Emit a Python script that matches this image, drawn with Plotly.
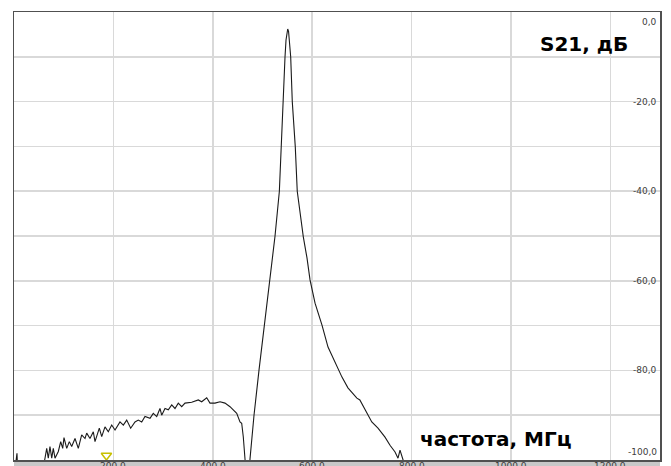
import plotly.graph_objects as go

# ---- data (frequency in MHz, S21 in dB) ----
freq_mhz = [
    0, 6, 8, 55, 62.4, 65.8, 69.0, 72.4, 75.9, 79.1, 82.5, 89.2, 94.0, 98.0, 100.6,
    106.1, 111.3, 116.1, 122.8, 129.4, 136.2, 142.9, 146.3, 152.9, 159.6, 163.0,
    171.7, 176.5, 183.1, 189.8, 196.6, 203.3, 213.3, 220.0, 226.8, 234.8, 243.5,
    250.1, 257.0, 263.6, 273.7, 280.3, 287.2, 293.8, 297.2, 303.9, 310.5, 317.4,
    324.0, 330.6, 337.5, 344.1, 357.6, 370.9, 377.7, 387.8, 394.4, 404.5, 414.6,
    424.6, 434.7, 441.3, 448.2, 454.8, 458.2, 461.4, 464.9, 468, 472, 474.9,
    483, 493, 503.7, 515.2, 525.3, 534, 537.3, 542, 545.4, 547.4, 549.5, 550.8,
    552.5, 554.4, 556.8, 560, 566, 570, 575.6, 582.2, 589.6, 595.7, 605.8, 619.8,
    631.9, 646, 660, 672, 690, 696, 710, 720, 732.5, 746.6, 756.7, 766.8,
    772.8, 776.8, 783, 790,
]
s21_db = [
    -104, -98.5, -104, -104, -99.6, -97.4, -99.6, -97.0, -99.6, -97.4, -99.6, -98.1, -95.9, -97.4, -95.0,
    -97.4, -95.9, -97.0, -95.2, -97.4, -94.4, -95.2, -94.0, -95.2, -93.7, -95.9,
    -92.9, -94.8, -92.6, -93.7, -92.2, -93.3, -91.5, -92.2, -91.1, -92.9, -91.5,
    -91.1, -91.5, -90.3, -90.7, -89.6, -90.3, -88.5, -90.0, -88.5, -88.8, -87.7,
    -88.5, -87.3, -88.1, -87.3, -87.1, -86.6, -87.0, -86.1, -87.3, -87.3, -87.0,
    -87.3, -88.1, -88.8, -89.6, -91.5, -91.8, -94.8, -100.4, -108, -110, -99.8,
    -90, -80, -70, -60, -50, -40, -30, -20, -10, -6.25, -4.2, -3.8,
    -4.3, -6.25, -10, -20, -30, -40, -44.9, -50.2, -54.9, -59.8, -65.0, -69.9,
    -74.8, -78.3, -81.5, -83.9, -86.2, -86.6, -89.3, -91.5, -92.9, -94.9, -96.7, -98.2,
    -99.6, -97.8, -100.0, -103,
]

marker_freq = [186]
marker_db = [-99.0]

x_tick_vals = [200, 400, 600, 800, 1000, 1200]
x_tick_text = ["200,0", "400,0", "600,0", "800,0", "1000,0", "1200,0"]
y_label_vals = [0, -20, -40, -60, -80, -100]
y_label_text = ["0,0", "-20,0", "-40,0", "-60,0", "-80,0", "-100,0"]

title_text = "S21, дБ"
xlabel_text = "частота, МГц"

fig = go.Figure()

fig.add_trace(go.Scatter(
    x=freq_mhz, y=s21_db, mode="lines",
    line=dict(color="#1a1a1a", width=1.1),
    hoverinfo="skip", showlegend=False,
))
fig.add_trace(go.Scatter(
    x=marker_freq, y=marker_db, mode="markers",
    marker=dict(symbol="triangle-down-open", size=9, color="#c8c000",
                line=dict(width=1.5, color="#c8c000")),
    hoverinfo="skip", showlegend=False, cliponaxis=False,
))

# grey band under the plot area
fig.add_shape(type="rect", xref="paper", yref="paper", x0=0, x1=1, y0=-0.05, y1=0,
              fillcolor="#c8c8c8", line=dict(width=0), layer="below")

annotations = []
for v, t in zip(y_label_vals, y_label_text):
    shift = 0
    if v == 0:
        shift = -10
    elif v == -100:
        shift = 8
    annotations.append(dict(
        x=1, xref="paper", y=v, yref="y", text=t, showarrow=False,
        xanchor="right", yanchor="middle", xshift=-1, yshift=shift,
        font=dict(family="DejaVu Sans", size=9, color="#404040"),
    ))
for v, t in zip(x_tick_vals, x_tick_text):
    annotations.append(dict(
        x=v, xref="x", y=0, yref="paper", text=t, showarrow=False,
        xanchor="center", yanchor="top", yshift=1,
        font=dict(family="DejaVu Sans", size=9, color="#404040"),
    ))
annotations.append(dict(
    x=0.9536, xref="paper", y=0.9286, yref="paper", text=title_text, showarrow=False,
    xanchor="right", yanchor="middle",
    font=dict(family="DejaVu Sans", size=20, color="#000000", weight="bold"),
))
annotations.append(dict(
    x=0.8669, xref="paper", y=0.0469, yref="paper", text=xlabel_text, showarrow=False,
    xanchor="right", yanchor="middle",
    font=dict(family="DejaVu Sans", size=20, color="#000000", weight="bold"),
))

fig.update_layout(
    width=671, height=466,
    margin=dict(l=14, r=11, t=12, b=6, pad=0),
    paper_bgcolor="white", plot_bgcolor="white",
    annotations=annotations,
    xaxis=dict(
        range=[0, 1300], tickvals=x_tick_vals, showticklabels=False,
        showgrid=True, gridcolor="#d9d9d9", gridwidth=1.5,
        zeroline=False, ticks="",
        showline=True, mirror=True, linecolor="#505050", linewidth=1.5,
        fixedrange=True,
    ),
    yaxis=dict(
        range=[-100, 0], dtick=10, showticklabels=False,
        showgrid=True, gridcolor="#d9d9d9", gridwidth=1.5,
        zeroline=False, ticks="",
        showline=True, mirror=True, linecolor="#505050", linewidth=1.5,
        fixedrange=True,
    ),
)

fig.write_html(
    "out.html",
    config={"displayModeBar": False, "staticPlot": True},
    post_script="document.documentElement.style.margin='0';"
                "document.documentElement.style.overflow='hidden';"
                "document.body.style.margin='0';document.body.style.overflow='hidden';",
)
